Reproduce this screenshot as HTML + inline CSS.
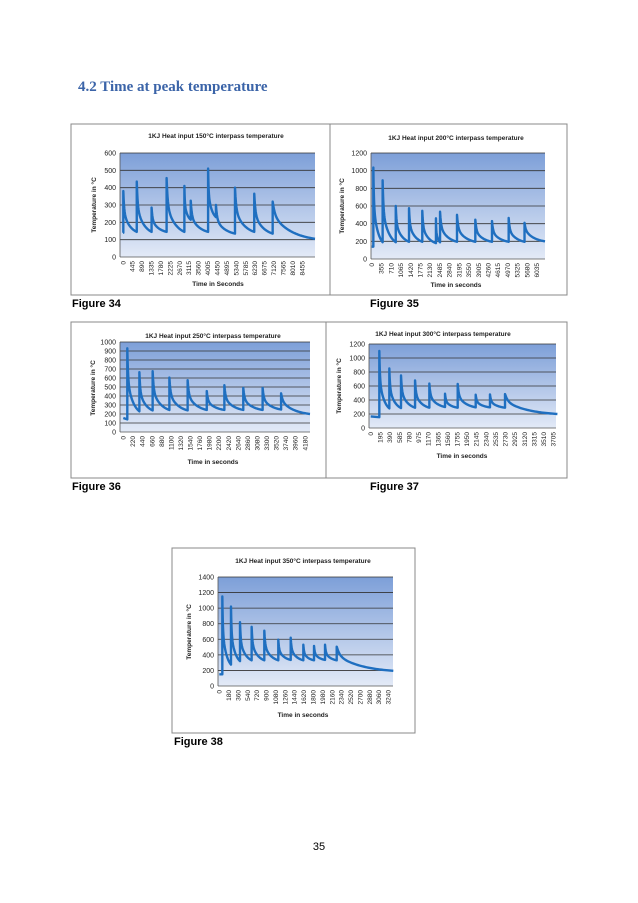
<!DOCTYPE html>
<html><head><meta charset="utf-8"><style>
html,body{margin:0;padding:0;background:#fff}
svg{display:block}
</style></head><body>
<svg id="page" width="638" height="903" viewBox="0 0 638 903" xmlns="http://www.w3.org/2000/svg" font-family="'Liberation Sans', sans-serif">
<defs>
<linearGradient id="bg" x1="0" y1="0" x2="0" y2="1">
<stop offset="0" stop-color="#7d9fd8"/><stop offset="1" stop-color="#e3eaf7"/>
</linearGradient>
</defs>
<text x="78" y="91" font-family="'Liberation Serif', serif" font-weight="bold" font-size="15" fill="#3b64a8">4.2  Time at peak temperature</text>
<text x="72" y="307" font-weight="bold" font-size="11">Figure 34</text>
<text x="370" y="307" font-weight="bold" font-size="11">Figure 35</text>
<text x="72" y="490" font-weight="bold" font-size="11">Figure 36</text>
<text x="370" y="490" font-weight="bold" font-size="11">Figure 37</text>
<text x="174" y="745" font-weight="bold" font-size="11">Figure 38</text>
<text x="319" y="850" text-anchor="middle" font-size="11">35</text>
<g id="charts"></g>
</svg>
<script>
// Chart 1 (150°C)
const c1Times   = [15, 650, 1350, 2060, 2900, 3200, 4020, 4390, 5290, 6200, 7070];
const c1Peaks   = [380, 435, 285, 455, 410, 325, 510, 300, 400, 365, 320];
const c1Valleys = [140, 145, 145, 145, 145, 215, 145, 230, 135, 145, 135];
const c1Start = 140, c1EndTime = 9070, c1EndValue = 105;
const c1XTicks = [0,445,890,1335,1780,2225,2670,3115,3560,4005,4450,4895,5340,5785,6230,6675,7120,7565,8010,8455];
// Chart 2 (200°C)
const c2Times   = [60, 400, 880, 1365, 1850, 2350, 2500, 3120, 3790, 4400, 5010, 5590];
const c2Peaks   = [1035, 890, 600, 575, 545, 460, 535, 500, 445, 430, 465, 410];
const c2Valleys = [140, 190, 190, 195, 195, 180, 190, 195, 195, 195, 195, 195];
const c2Start = 140, c2EndTime = 6340, c2EndValue = 200;
const c2XTicks = [0,355,710,1065,1420,1775,2130,2485,2840,3195,3550,3905,4260,4615,4970,5325,5680,6035];
// Chart 3 (250°C)
const c3Times   = [92, 370, 675, 1060, 1480, 1920, 2325, 2760, 3205, 3630];
const c3Peaks   = [930, 665, 675, 605, 575, 455, 520, 490, 490, 430];
const c3Valleys = [140, 230, 240, 245, 240, 245, 245, 245, 245, 250];
const c3Start = 155, c3EndTime = 4295, c3EndValue = 200;
const c3XTicks = [0,220,440,660,880,1100,1320,1540,1760,1980,2200,2420,2640,2860,3080,3300,3520,3740,3960,4180];
// Chart 4 (300°C)
const c4Times   = [175, 378, 615, 900, 1190, 1508, 1765, 2130, 2420, 2725];
const c4Peaks   = [1100, 850, 750, 680, 635, 490, 630, 475, 480, 485];
const c4Valleys = [155, 280, 285, 290, 290, 300, 290, 295, 295, 290];
const c4Start = 165, c4EndTime = 3788, c4EndValue = 200;
const c4XTicks = [0,195,390,585,780,975,1170,1365,1560,1755,1950,2145,2340,2535,2730,2925,3120,3315,3510,3705];
// Chart 5 (350°C)
const c5Times   = [58, 224, 397, 620, 863, 1131, 1369, 1611, 1816, 2027, 2251];
const c5Peaks   = [1150, 1020, 820, 760, 710, 595, 620, 530, 515, 530, 505];
const c5Valleys = [150, 275, 320, 330, 330, 330, 335, 330, 330, 335, 330];
const c5Start = 150, c5EndTime = 3336, c5EndValue = 195;
const c5XTicks = [0,180,360,540,720,900,1080,1260,1440,1620,1800,1980,2160,2340,2520,2700,2880,3060,3240];

const NS = 'http://www.w3.org/2000/svg';
const root = document.getElementById('charts');
function mk(tag, attrs, parent){ const e=document.createElementNS(NS,tag); for(const k in attrs) e.setAttribute(k,attrs[k]); (parent||root).appendChild(e); return e; }
function decay(u, tf){ const e1=Math.exp(-1/tf); return (Math.exp(-u/tf)-e1)/(1-e1); }

function chart(cfg){
  const g = mk('g',{});
  
  
  const fr = mk('rect',{x:cfg.frame[0],y:cfg.frame[1],width:cfg.frame[2]-cfg.frame[0],height:cfg.frame[3]-cfg.frame[1],fill:'#fff',stroke:'#888','stroke-width':1},g);
  
  
  const [L,T,R,B] = cfg.plot;
  const pa = mk('rect',{x:L,y:T,width:R-L,height:B-T,fill:'url(#bg)'},g);
  
  
  const yS = v => B - v/cfg.ymax*(B-T);
  const xS = t => cfg.x0 + t*cfg.pps;
  for(let v=0; v<=cfg.ymax; v+=cfg.ystep){
    const y=yS(v);
    if(v>0){ const gl=mk('line',{x1:L,x2:R,y1:y,y2:y,stroke:'#333','stroke-width':0.8},g);
      
       }
    const tl=mk('text',{x:L-4,y:y+2.5,'text-anchor':'end','font-size':7,fill:'#222'},g);
    tl.textContent=v;
    
    
  }
  mk('line',{x1:L,x2:L,y1:T,y2:B,stroke:'#555','stroke-width':0.8},g);
  mk('line',{x1:L,x2:R,y1:B,y2:B,stroke:'#555','stroke-width':0.8},g);
  cfg.xticks.forEach(t=>{
    const x=xS(t);
    const xl=mk('text',{x:0,y:0,'text-anchor':'end','font-size':6.5,fill:'#222',transform:`translate(${x+2.3},${B+4}) rotate(-90)`},g);
    xl.textContent=t;
    
    
  });
  const tt=mk('text',{x:cfg.title[0],y:cfg.title[1],'text-anchor':'middle','font-size':6.5,'font-weight':'bold',fill:'#222'},g);
  tt.textContent=cfg.titleText;
  
  
  const xt=mk('text',{x:cfg.xt[0],y:cfg.xt[1],'text-anchor':'middle','font-size':6.5,'font-weight':'bold',fill:'#222'},g);
  xt.textContent=cfg.xtText;
  
  
  const yt=mk('text',{x:0,y:0,'text-anchor':'middle','font-size':6.5,'font-weight':'bold',fill:'#222',transform:`translate(${cfg.yt[0]},${cfg.yt[1]}) rotate(-90)`},g);
  yt.textContent='Temperature in °C';
  
  
  const times=cfg.times, peaks=cfg.peaks, valleys=cfg.valleys;
  let d=`M${xS(0)},${yS(cfg.start)} L${xS(times[0])},${yS(valleys[0])}`;
  for(let i=0;i<times.length;i++){
    const t0=times[i], p=peaks[i];
    const last = i===times.length-1;
    const t1 = last?cfg.endTime:times[i+1];
    const v1 = last?cfg.endValue:valleys[i+1];
    d+=` L${xS(t0)},${yS(p)}`;
    const D=t1-t0, n=40;
    for(let k=1;k<=n;k++){
      const u=k/n;
      const f = last ? (0.35*decay(u,0.05)+0.65*decay(u,0.45)) : (0.5*decay(u,0.06)+0.5*decay(u,0.5));
      d+=` L${xS(t0+D*u).toFixed(2)},${yS(v1+(p-v1)*f).toFixed(2)}`;
    }
  }
  const ln=mk('path',{d:d,fill:'none',stroke:'#1f6fc0','stroke-width':2.4,'stroke-linejoin':'round'},g);
  
  
}

chart({name:'chart-150c',frame:[71,124,330,295],plot:[120,153,315,257],ymax:600,ystep:100,x0:123,pps:0.02117,
  xticks:c1XTicks,times:c1Times,peaks:c1Peaks,valleys:c1Valleys,start:c1Start,endTime:c1EndTime,endValue:c1EndValue,
  title:[216,138],titleText:'1KJ Heat input 150°C interpass  temperature',xt:[218,286],xtText:'Time in Seconds',yt:[96,205]});
chart({name:'chart-200c',frame:[330,124,567,295],plot:[371,153,545,259],ymax:1200,ystep:200,x0:371.7,pps:0.02734,
  xticks:c2XTicks,times:c2Times,peaks:c2Peaks,valleys:c2Valleys,start:c2Start,endTime:c2EndTime,endValue:c2EndValue,
  title:[456,140],titleText:'1KJ Heat input 200°C interpass temperature',xt:[456,287],xtText:'Time in seconds',yt:[344,206]});
chart({name:'chart-250c',frame:[71,322,326,478],plot:[120,342,310,432],ymax:1000,ystep:100,x0:123.3,pps:0.04347,
  xticks:c3XTicks,times:c3Times,peaks:c3Peaks,valleys:c3Valleys,start:c3Start,endTime:c3EndTime,endValue:c3EndValue,
  title:[213,338],titleText:'1KJ Heat input 250°C interpass temperature',xt:[213,464],xtText:'Time in seconds',yt:[95,388]});
chart({name:'chart-300c',frame:[326,322,567,478],plot:[369,344,556,428],ymax:1200,ystep:200,x0:370.7,pps:0.04929,
  xticks:c4XTicks,times:c4Times,peaks:c4Peaks,valleys:c4Valleys,start:c4Start,endTime:c4EndTime,endValue:c4EndValue,
  title:[443,336],titleText:'1KJ Heat input 300°C interpass temperature',xt:[462,458],xtText:'Time in seconds',yt:[341,386]});
chart({name:'chart-350c',frame:[172,548,415,733],plot:[218,577,393,686],ymax:1400,ystep:200,x0:219.3,pps:0.05216,
  xticks:c5XTicks,times:c5Times,peaks:c5Peaks,valleys:c5Valleys,start:c5Start,endTime:c5EndTime,endValue:c5EndValue,
  title:[303,563],titleText:'1KJ Heat input 350°C interpass temperature',xt:[303,717],xtText:'Time in seconds',yt:[191,632]});
</script>
</body></html>
